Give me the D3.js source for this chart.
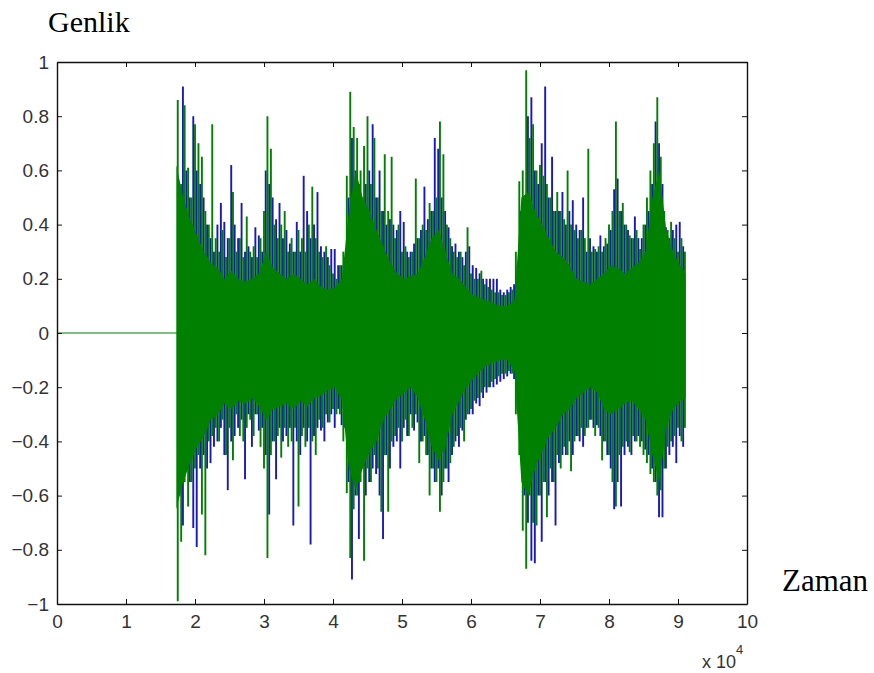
<!DOCTYPE html>
<html>
<head>
<meta charset="utf-8">
<script src="https://cdn.jsdelivr.net/npm/d3@7"></script>
<style>
  html, body { margin: 0; padding: 0; background: #fff; }
  svg { display: block; }
  .tick text { font-family: "Liberation Sans", Arial, sans-serif; font-size: 19px; fill: #333; }
</style>
</head>
<body>
<svg id="chart" width="874" height="673"></svg>
<script>
// Stereo waveform: amplitude (Genlik) against sample index (Zaman).
const xTicks = [0, 10000, 20000, 30000, 40000, 50000, 60000, 70000, 80000, 90000, 100000];
const yTicks = [-1, -0.8, -0.6, -0.4, -0.2, 0, 0.2, 0.4, 0.6, 0.8, 1];

const signalStart = 17400;   // first non-silent sample
const signalEnd = 91100;     // last sample

// Peak envelope per 500-sample bin (green channel drawn last, on top)
const binStart = 17500, binStep = 500;
const greenHi = [0.86,0.55,0.84,0.61,0.5,0.77,0.7,0.65,0.45,0.4,0.77,0.35,0.3,0.38,0.28,0.35,0.52,0.3,0.35,0.28,
  0.43,0.3,0.32,0.28,0.35,0.45,0.8,0.68,0.4,0.35,0.4,0.45,0.3,0.35,0.3,0.38,0.35,0.3,0.4,0.54,
  0.35,0.3,0.28,0.32,0.25,0.22,0.2,0.25,0.3,0.58,0.89,0.76,0.72,0.6,0.69,0.8,0.55,0.72,0.5,0.45,
  0.66,0.45,0.65,0.35,0.4,0.3,0.32,0.28,0.3,0.57,0.35,0.4,0.38,0.48,0.45,0.5,0.78,0.66,0.4,0.35,
  0.3,0.28,0.3,0.25,0.39,0.22,0.2,0.2,0.23,0.18,0.17,0.16,0.15,0.15,0.14,0.14,0.15,0.16,0.3,0.56,
  0.6,0.97,0.72,0.77,0.6,0.62,0.58,0.55,0.5,0.45,0.52,0.45,0.42,0.6,0.4,0.38,0.35,0.38,0.35,0.68,
  0.3,0.31,0.32,0.3,0.35,0.4,0.45,0.78,0.45,0.48,0.4,0.36,0.35,0.38,0.31,0.4,0.5,0.6,0.7,0.87,
  0.65,0.45,0.38,0.41,0.35,0.3,0.35,0.3];
const greenLo = [-0.99,-0.77,-0.55,-0.64,-0.55,-0.5,-0.45,-0.67,-0.82,-0.4,-0.38,-0.35,-0.4,-0.32,-0.45,-0.35,-0.47,-0.3,-0.38,-0.4,
  -0.35,-0.32,-0.38,-0.3,-0.42,-0.5,-0.83,-0.45,-0.4,-0.38,-0.46,-0.35,-0.42,-0.4,-0.35,-0.64,-0.38,-0.42,-0.35,-0.4,
  -0.45,-0.32,-0.35,-0.3,-0.33,-0.28,-0.3,-0.3,-0.4,-0.59,-0.83,-0.65,-0.6,-0.55,-0.84,-0.5,-0.55,-0.45,-0.5,-0.66,
  -0.45,-0.66,-0.4,-0.38,-0.35,-0.4,-0.32,-0.38,-0.35,-0.3,-0.48,-0.4,-0.45,-0.6,-0.5,-0.55,-0.66,-0.55,-0.5,-0.48,
  -0.42,-0.38,-0.35,-0.4,-0.3,-0.28,-0.25,-0.24,-0.22,-0.2,-0.2,-0.18,-0.17,-0.16,-0.15,-0.15,-0.14,-0.15,-0.3,-0.45,
  -0.73,-0.87,-0.6,-0.7,-0.71,-0.6,-0.55,-0.68,-0.5,-0.55,-0.45,-0.5,-0.42,-0.45,-0.51,-0.4,-0.38,-0.35,-0.38,-0.35,
  -0.32,-0.38,-0.35,-0.47,-0.4,-0.45,-0.55,-0.64,-0.45,-0.42,-0.4,-0.44,-0.38,-0.4,-0.42,-0.45,-0.48,-0.52,-0.55,-0.6,
  -0.58,-0.5,-0.42,-0.4,-0.38,-0.35,-0.4,-0.35];

// Blue channel peaks, bins offset by half a bin
const blueStart = 17750;
const blueHi = [0.41,0.91,0.6,0.5,0.8,0.6,0.55,0.5,0.4,0.35,0.3,0.4,0.48,0.41,0.35,0.62,0.4,0.35,0.48,0.3,
  0.32,0.28,0.39,0.36,0.3,0.6,0.55,0.5,0.42,0.48,0.35,0.38,0.33,0.3,0.41,0.3,0.58,0.45,0.35,0.4,
  0.52,0.32,0.3,0.28,0.31,0.31,0.25,0.25,0.28,0.5,0.72,0.6,0.55,0.5,0.55,0.6,0.77,0.5,0.6,0.45,
  0.4,0.42,0.4,0.38,0.45,0.41,0.3,0.3,0.33,0.35,0.38,0.54,0.42,0.45,0.72,0.68,0.5,0.45,0.39,0.32,
  0.33,0.3,0.28,0.3,0.32,0.25,0.24,0.22,0.2,0.2,0.2,0.2,0.2,0.16,0.15,0.16,0.17,0.18,0.25,0.45,
  0.5,0.8,0.87,0.6,0.55,0.7,0.91,0.5,0.65,0.45,0.45,0.52,0.4,0.45,0.49,0.4,0.38,0.5,0.3,0.35,
  0.32,0.3,0.36,0.32,0.33,0.38,0.53,0.57,0.45,0.4,0.38,0.35,0.43,0.35,0.35,0.4,0.45,0.55,0.78,0.7,
  0.55,0.39,0.35,0.38,0.4,0.41,0.32,0.41];
const blueLo = [-0.6,-0.71,-0.5,-0.55,-0.72,-0.79,-0.5,-0.45,-0.5,-0.48,-0.42,-0.4,-0.35,-0.45,-0.58,-0.4,-0.38,-0.35,-0.32,-0.54,
  -0.3,-0.42,-0.3,-0.36,-0.35,-0.45,-0.67,-0.4,-0.54,-0.35,-0.4,-0.38,-0.35,-0.71,-0.4,-0.45,-0.35,-0.4,-0.78,-0.38,
  -0.35,-0.36,-0.4,-0.33,-0.3,-0.35,-0.28,-0.34,-0.35,-0.55,-0.91,-0.6,-0.76,-0.5,-0.6,-0.55,-0.5,-0.52,-0.6,-0.76,
  -0.45,-0.5,-0.42,-0.4,-0.5,-0.35,-0.38,-0.3,-0.36,-0.33,-0.4,-0.38,-0.45,-0.5,-0.55,-0.5,-0.6,-0.5,-0.55,-0.45,
  -0.4,-0.42,-0.36,-0.32,-0.3,-0.3,-0.26,-0.27,-0.24,-0.22,-0.2,-0.2,-0.19,-0.18,-0.17,-0.16,-0.15,-0.17,-0.28,-0.4,
  -0.6,-0.7,-0.84,-0.85,-0.6,-0.77,-0.55,-0.6,-0.55,-0.71,-0.48,-0.45,-0.45,-0.4,-0.45,-0.38,-0.4,-0.42,-0.35,-0.32,
  -0.35,-0.34,-0.38,-0.4,-0.45,-0.5,-0.65,-0.55,-0.64,-0.45,-0.42,-0.45,-0.4,-0.38,-0.4,-0.43,-0.45,-0.5,-0.55,-0.68,
  -0.68,-0.5,-0.45,-0.42,-0.48,-0.38,-0.42,-0.4];

// Dense body of the waveform, every 1000 samples
const coreStart = 17300, coreStep = 1000;
const coreTop = [0.62,0.5,0.42,0.36,0.3,0.26,0.24,0.2,0.23,0.2,0.19,0.2,0.22,0.3,0.24,0.22,0.2,0.22,0.2,0.18,
  0.2,0.17,0.16,0.17,0.2,0.45,0.6,0.5,0.45,0.38,0.32,0.26,0.22,0.2,0.21,0.22,0.28,0.35,0.38,0.3,
  0.22,0.2,0.17,0.14,0.13,0.12,0.11,0.1,0.1,0.12,0.5,0.52,0.45,0.4,0.35,0.3,0.28,0.25,0.2,0.19,
  0.18,0.2,0.22,0.25,0.24,0.22,0.24,0.26,0.3,0.5,0.6,0.38,0.3,0.25,0.22];
const coreBottom = [-0.65,-0.55,-0.48,-0.42,-0.38,-0.32,-0.3,-0.26,-0.28,-0.25,-0.26,-0.24,-0.27,-0.32,-0.28,-0.27,-0.26,-0.28,-0.25,-0.27,
  -0.24,-0.23,-0.21,-0.2,-0.25,-0.5,-0.58,-0.5,-0.44,-0.4,-0.32,-0.28,-0.24,-0.22,-0.2,-0.24,-0.32,-0.42,-0.47,-0.42,
  -0.3,-0.25,-0.2,-0.17,-0.14,-0.12,-0.11,-0.1,-0.1,-0.14,-0.55,-0.6,-0.5,-0.44,-0.38,-0.35,-0.3,-0.28,-0.24,-0.22,
  -0.2,-0.22,-0.28,-0.3,-0.28,-0.26,-0.25,-0.28,-0.32,-0.45,-0.55,-0.35,-0.28,-0.25,-0.24];

const BLUE = "#1818c0", GREEN = "#008000";

const svg = d3.select("#chart");
const plot = { left: 57, top: 62, right: 747, bottom: 604 };

const x = d3.scaleLinear().domain([0, 100000]).range([plot.left, plot.right]);
const y = d3.scaleLinear().domain([-1, 1]).range([plot.bottom, plot.top]);

const wave = svg.append("g");

// silent lead-in
wave.append("line")
  .attr("x1", x(0)).attr("x2", x(signalStart))
  .attr("y1", y(0)).attr("y2", y(0))
  .attr("stroke", GREEN).attr("stroke-width", 1.2);

const blueBins = blueHi.map((h, i) => ({ s: blueStart + i * binStep, hi: h, lo: blueLo[i] }))
  .filter(d => d.s <= signalEnd);
const greenBins = greenHi.map((h, i) => ({ s: binStart + i * binStep, hi: h, lo: greenLo[i] }));
const core = coreTop.map((t, i) => ({ s: Math.min(coreStart + i * coreStep, signalEnd), t, b: coreBottom[i] }));

wave.append("g").selectAll("line").data(blueBins).join("line")
  .attr("x1", d => x(d.s)).attr("x2", d => x(d.s))
  .attr("y1", d => y(d.lo)).attr("y2", d => y(d.hi))
  .attr("stroke", BLUE).attr("stroke-width", 1.9);

wave.append("path").datum(core)
  .attr("d", d3.area().x(d => x(d.s)).y0(d => y(d.b)).y1(d => y(d.t)))
  .attr("fill", GREEN);

wave.append("g").selectAll("line").data(greenBins).join("line")
  .attr("x1", d => x(d.s)).attr("x2", d => x(d.s))
  .attr("y1", d => y(d.lo)).attr("y2", d => y(d.hi))
  .attr("stroke", GREEN).attr("stroke-width", 1.9);

// axes: inward ticks on all four sides
const fmtX = d => d3.format("d")(d / 10000);
const fmtY = d => d === 0 ? "0" : d3.format("")(+d.toFixed(1));

svg.append("g").attr("transform", `translate(0,${plot.bottom})`)
  .call(d3.axisBottom(x).tickValues(xTicks).tickSize(-5).tickSizeOuter(0).tickPadding(11).tickFormat(fmtX));
svg.append("g").attr("transform", `translate(0,${plot.top})`)
  .call(d3.axisTop(x).tickValues(xTicks).tickSize(-5).tickSizeOuter(0).tickFormat(""));
svg.append("g").attr("transform", `translate(${plot.left},0)`)
  .call(d3.axisLeft(y).tickValues(yTicks).tickSize(-5).tickSizeOuter(0).tickPadding(8).tickFormat(fmtY));
svg.append("g").attr("transform", `translate(${plot.right},0)`)
  .call(d3.axisRight(y).tickValues(yTicks).tickSize(-5).tickSizeOuter(0).tickFormat(""));

svg.selectAll(".domain").attr("stroke", "#111").attr("stroke-width", 1.4);
svg.selectAll(".tick line").attr("stroke", "#111");

// exponent note under the x axis
const ex = svg.append("text").attr("x", 702).attr("y", 668)
  .attr("font-family", "Liberation Sans, Arial, sans-serif").attr("font-size", 18).attr("fill", "#333");
ex.append("tspan").text("x 10");
ex.append("tspan").attr("dy", -14).attr("font-size", 13).text("4");

// axis titles
svg.append("text").attr("x", 48).attr("y", 32)
  .attr("font-family", "Liberation Serif, Times New Roman, serif").attr("font-size", 30).attr("fill", "#000")
  .text("Genlik");
svg.append("text").attr("x", 782).attr("y", 591)
  .attr("font-family", "Liberation Serif, Times New Roman, serif").attr("font-size", 31).attr("fill", "#000")
  .text("Zaman");
</script>
</body>
</html>
